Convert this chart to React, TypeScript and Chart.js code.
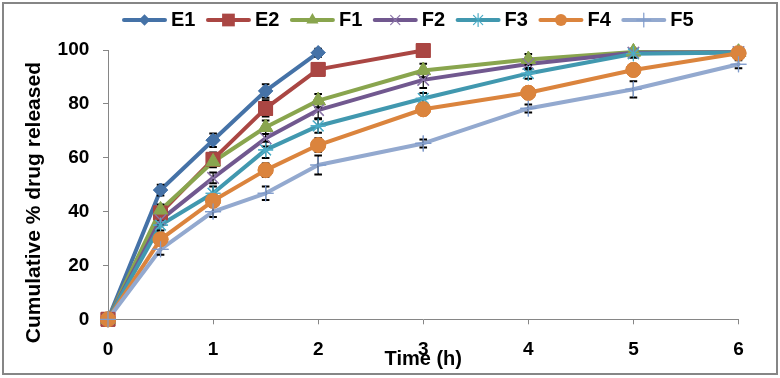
import React, { useEffect, useRef } from 'react';
import { Chart, registerables } from 'chart.js';

Chart.register(...registerables);

// ---------- data ----------
const SERIES_LABELS = ['E1', 'E2', 'F1', 'F2', 'F3', 'F4', 'F5'];

const TIME_E1 = [0, 0.5, 1, 1.5, 2];
const TIME_E2 = [0, 0.5, 1, 1.5, 2, 3];
const TIME_F = [0, 0.5, 1, 1.5, 2, 3, 4, 5, 6];

const E1 = [0, 48, 66.5, 84.8, 99];
const E2 = [0, 39.5, 59.4, 78.3, 92.8, 99.8];
const F1 = [0, 40.6, 58.5, 71.3, 81.2, 92.4, 96.5, 99.3, 99.2];
const F2 = [0, 36.9, 52.5, 67.2, 77.7, 88.9, 94.8, 99, 99.2];
const F3 = [0, 35, 46.8, 62.9, 71.8, 82, 91.3, 98.6, 99.1];
const F4 = [0, 29.7, 44, 55.4, 64.7, 78, 84.1, 92.6, 98.8];
const F5 = [0, 26, 40, 46.8, 57.3, 65.3, 78.3, 85.4, 94.7];

const E1_SD = [0, 2.0, 2.5, 2.5, 1.5];
const E2_SD = [0, 2.0, 2.5, 3.0, 2.0, 1.0];
const F1_SD = [0, 2.0, 2.0, 2.5, 2.5, 2.5, 2.0, 1.0, 1.0];
const F2_SD = [0, 2.0, 2.0, 3.0, 3.0, 3.0, 2.0, 1.5, 1.0];
const F3_SD = [0, 2.0, 2.5, 3.0, 2.5, 2.0, 2.0, 1.5, 1.0];
const F4_SD = [0, 2.0, 2.0, 2.5, 2.5, 2.0, 2.0, 2.0, 1.5];
const F5_SD = [0, 2.0, 2.0, 2.5, 3.5, 1.5, 1.5, 3.0, 1.5];

const SERIES_TIMES = [TIME_E1, TIME_E2, TIME_F, TIME_F, TIME_F, TIME_F, TIME_F];
const SERIES_VALUES = [E1, E2, F1, F2, F3, F4, F5];
const SERIES_SD = [E1_SD, E2_SD, F1_SD, F2_SD, F3_SD, F4_SD, F5_SD];

const X_TICK_STEP = 1;
const Y_TICK_STEP = 20;
const X_TITLE = 'Time (h)';
const Y_TITLE = 'Cumulative % drug released';

// ---------- styles ----------
const COLORS = ['#4572A7', '#AA4643', '#89A54E', '#71588F', '#4198AF', '#DB843D', '#93A9CF'];
const MARKER_COLORS = ['#4572A7', '#AA4643', '#89A54E', '#8B74A8', '#4BACC6', '#DB843D', '#7F9BCB'];
const POINT_STYLES = ['rectRot', 'rect', 'triangle', 'crossRot', 'star', 'circle', 'cross'];
const POINT_RADII = [7, 9.8, 8.3, 8, 7.5, 7.5, 8];
const LEGEND_RADII = [5.8, 9, 7, 6.5, 6.5, 6, 7];
const FONT_FAMILY = "'Liberation Sans', Arial, Helvetica, sans-serif";
const AXIS_GRAY = '#868686';

function drawMarker(ctx: CanvasRenderingContext2D, style: string, x: number, y: number, r: number, color: string) {
  ctx.save();
  ctx.fillStyle = color;
  ctx.strokeStyle = color;
  ctx.lineWidth = 1.2;
  ctx.beginPath();
  const d = r * Math.SQRT1_2;
  switch (style) {
    case 'rectRot':
      ctx.moveTo(x - r, y); ctx.lineTo(x, y - r); ctx.lineTo(x + r, y); ctx.lineTo(x, y + r); ctx.closePath(); ctx.fill();
      break;
    case 'rect':
      ctx.rect(x - d, y - d, 2 * d, 2 * d); ctx.fill();
      break;
    case 'triangle':
      ctx.moveTo(x, y - r); ctx.lineTo(x + r * 0.866, y + r * 0.5); ctx.lineTo(x - r * 0.866, y + r * 0.5); ctx.closePath(); ctx.fill();
      break;
    case 'circle':
      ctx.arc(x, y, r, 0, Math.PI * 2); ctx.fill();
      break;
    case 'crossRot':
      ctx.moveTo(x - d, y - d); ctx.lineTo(x + d, y + d); ctx.moveTo(x + d, y - d); ctx.lineTo(x - d, y + d); ctx.stroke();
      break;
    case 'star':
      ctx.moveTo(x - d, y - d); ctx.lineTo(x + d, y + d); ctx.moveTo(x + d, y - d); ctx.lineTo(x - d, y + d);
      ctx.moveTo(x, y - r); ctx.lineTo(x, y + r); ctx.stroke();
      break;
    case 'cross':
      ctx.moveTo(x, y - r); ctx.lineTo(x, y + r); ctx.moveTo(x - r, y); ctx.lineTo(x + r, y); ctx.stroke();
      break;
  }
  ctx.restore();
}

const frameBackground = {
  id: 'frameBackground',
  beforeDraw(chart: any) {
    const { ctx, width, height } = chart;
    ctx.save();
    ctx.fillStyle = '#ffffff';
    ctx.fillRect(0, 0, width, height);
    ctx.strokeStyle = AXIS_GRAY;
    ctx.lineWidth = 2;
    ctx.strokeRect(3, 3, width - 6, height - 7);
    ctx.restore();
  },
};

// Error bars are drawn over the lines, then the markers are redrawn on top of them.
const errorBars = {
  id: 'errorBars',
  afterDatasetsDraw(chart: any) {
    const { ctx } = chart;
    const xs = chart.scales.x;
    const ys = chart.scales.y;
    ctx.save();
    ctx.strokeStyle = '#000';
    chart.data.datasets.forEach((ds: any) => {
      const errs: number[] = ds.errors;
      if (!errs) return;
      ds.data.forEach((p: any, j: number) => {
        const e = errs[j];
        if (!e) return;
        const px = xs.getPixelForValue(p.x);
        const yt = ys.getPixelForValue(p.y + e);
        const yb = ys.getPixelForValue(p.y - e);
        ctx.lineWidth = 1.2;
        ctx.beginPath();
        ctx.moveTo(px, yt); ctx.lineTo(px, yb);
        ctx.stroke();
        ctx.lineWidth = 2;
        ctx.beginPath();
        ctx.moveTo(px - 3.8, yt); ctx.lineTo(px + 3.8, yt);
        ctx.moveTo(px - 3.8, yb); ctx.lineTo(px + 3.8, yb);
        ctx.stroke();
      });
    });
    ctx.restore();
    // redraw markers above the bars, later series on top
    const metas = chart.getSortedVisibleDatasetMetas();
    for (let i = metas.length - 1; i >= 0; i--) {
      metas[i].data.forEach((pt: any) => pt.draw(ctx, undefined));
    }
  },
};

const customLegend = {
  id: 'customLegend',
  afterDraw(chart: any) {
    const { ctx } = chart;
    ctx.save();
    ctx.font = `bold 20px ${FONT_FAMILY}`;
    ctx.textBaseline = 'middle';
    ctx.textAlign = 'left';
    const y = 20.5;
    let x = 123;
    chart.data.datasets.forEach((ds: any, i: number) => {
      ctx.strokeStyle = COLORS[i];
      ctx.lineWidth = 4;
      ctx.lineCap = 'round';
      ctx.beginPath();
      ctx.moveTo(x + 1, y - 0.5);
      ctx.lineTo(x + 42, y - 0.5);
      ctx.stroke();
      drawMarker(ctx, POINT_STYLES[i], x + 21.5, y - 0.5, LEGEND_RADII[i], MARKER_COLORS[i]);
      ctx.fillStyle = '#000';
      const tx = x + 48;
      ctx.fillText(ds.label, tx, y);
      x = tx + ctx.measureText(ds.label).width + 11.5;
    });
    ctx.restore();
  },
};

const yTitlePlugin = {
  id: 'yTitle',
  afterDraw(chart: any) {
    const { ctx, chartArea } = chart;
    ctx.save();
    ctx.translate(34, (chartArea.top + chartArea.bottom) / 2 + 18);
    ctx.rotate(-Math.PI / 2);
    ctx.font = `bold 21px ${FONT_FAMILY}`;
    ctx.fillStyle = '#000';
    ctx.textAlign = 'center';
    ctx.textBaseline = 'middle';
    ctx.fillText(Y_TITLE, 0, 0);
    ctx.restore();
  },
};

export default function App() {
  const canvasRef = useRef<HTMLCanvasElement | null>(null);

  useEffect(() => {
    if (!canvasRef.current) return;
    Chart.defaults.font.family = FONT_FAMILY;
    const n = SERIES_LABELS.length;
    const datasets = SERIES_LABELS.map((label, i) => ({
      label,
      data: SERIES_TIMES[i].map((t, j) => ({ x: t, y: SERIES_VALUES[i][j] })),
      errors: SERIES_SD[i],
      borderColor: COLORS[i],
      backgroundColor: MARKER_COLORS[i],
      pointBackgroundColor: MARKER_COLORS[i],
      pointBorderColor: MARKER_COLORS[i],
      pointStyle: POINT_STYLES[i],
      pointRadius: POINT_RADII[i],
      pointBorderWidth: ['crossRot', 'star', 'cross'].includes(POINT_STYLES[i]) ? 1.2 : 1,
      borderWidth: 4,
      borderJoinStyle: 'round' as const,
      borderCapStyle: 'round' as const,
      tension: 0,
      clip: false as any,
      order: n - i,
    }));

    const tickFont = { size: 19, weight: 'bold' as const, lineHeight: 1.2 };

    const chart = new Chart(canvasRef.current, {
      type: 'line',
      data: { datasets },
      plugins: [frameBackground, errorBars, customLegend, yTitlePlugin],
      options: {
        animation: false,
        responsive: true,
        maintainAspectRatio: false,
        layout: { padding: { left: 0, right: 41.5, top: 50, bottom: 0 } },
        plugins: {
          legend: { display: false },
          tooltip: { enabled: false },
          title: { display: false },
        },
        scales: {
          x: {
            type: 'linear',
            min: 0,
            max: 6,
            ticks: { stepSize: X_TICK_STEP, font: tickFont, color: '#000', padding: 14.3, autoSkip: false, maxRotation: 0 },
            grid: { drawOnChartArea: false, drawTicks: true, tickLength: 5, color: AXIS_GRAY },
            border: { color: AXIS_GRAY, width: 1 },
            title: {
              display: true,
              text: X_TITLE,
              color: '#000',
              font: { size: 20, weight: 'bold', lineHeight: 1.2 },
              padding: { top: 0, bottom: 6.4 },
            },
            afterFit(scale: any) {
              scale.height = 58.7;
            },
          },
          y: {
            type: 'linear',
            min: 0,
            max: 100,
            ticks: { stepSize: Y_TICK_STEP, font: tickFont, color: '#000', padding: 13.7 },
            grid: { drawOnChartArea: false, drawTicks: true, tickLength: 5, color: AXIS_GRAY },
            border: { color: AXIS_GRAY, width: 1 },
            title: { display: false },
            afterFit(scale: any) {
              scale.width = 108;
            },
          },
        },
      } as any,
    });
    return () => chart.destroy();
  }, []);

  return (
    <div style={{ position: 'fixed', left: 0, top: 0, width: 780, height: 378, background: '#fff' }}>
      <canvas ref={canvasRef} />
    </div>
  );
}
